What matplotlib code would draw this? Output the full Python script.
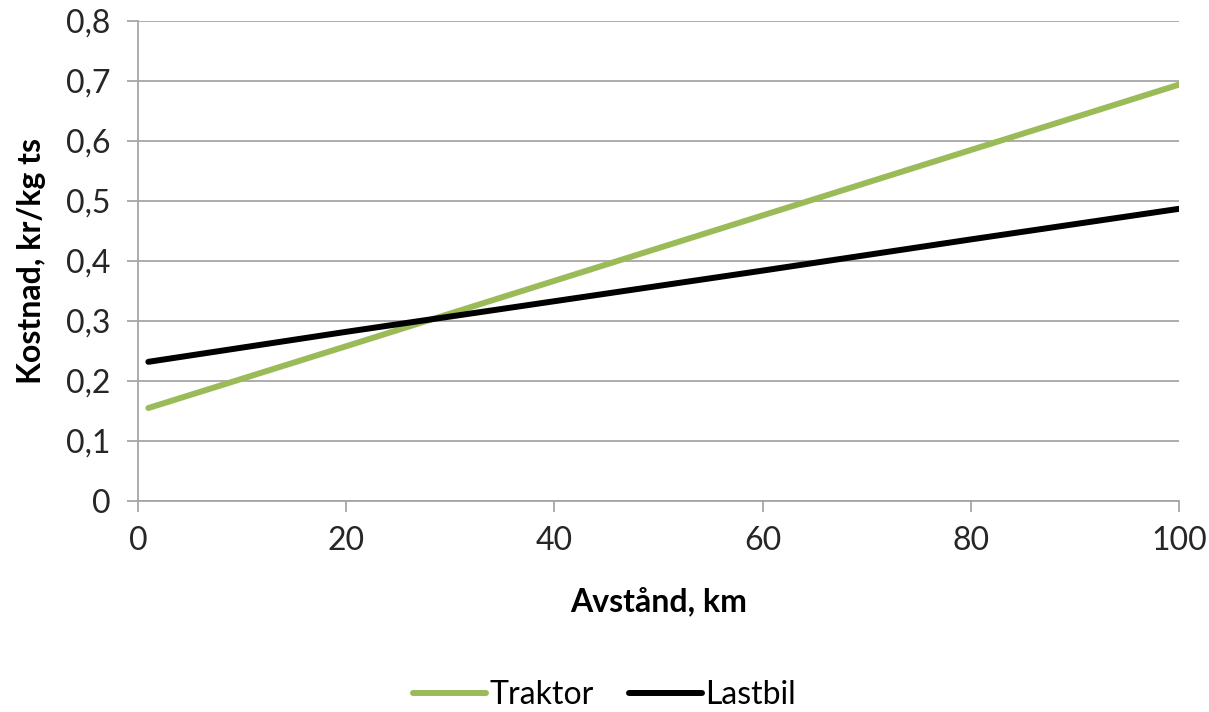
import matplotlib
matplotlib.use("Agg")
import matplotlib.pyplot as plt
from matplotlib.ticker import FuncFormatter

distance = [1, 20, 40, 60, 80, 100]
traktor = [0.155, 0.258, 0.367, 0.476, 0.585, 0.694]
lastbil = [0.232, 0.282, 0.333, 0.384, 0.436, 0.487]
x_ticks = [0, 20, 40, 60, 80, 100]
y_ticks = [0, 0.1, 0.2, 0.3, 0.4, 0.5, 0.6, 0.7, 0.8]

plt.rcParams['font.family'] = ['Lato', 'DejaVu Sans']
fig = plt.figure(figsize=(12.09, 7.12), dpi=100)
ax = fig.add_axes([0.1141, 0.2963, 0.9752 - 0.1141, 0.9705 - 0.2963])

grid_c = '#a6a6a6'
fs = 23
ax.plot(distance, traktor, color='#9bbb59', lw=4.3, label='Traktor', solid_capstyle='round', zorder=3)
ax.plot(distance, lastbil, color='#000000', lw=4.3, label='Lastbil', solid_capstyle='round', zorder=3)

ax.set_xlim(0, 100)
ax.set_ylim(0, 0.8)
ax.set_xticks(x_ticks)
ax.set_yticks(y_ticks)
ax.yaxis.set_major_formatter(FuncFormatter(lambda v, p: ('%g' % round(v, 2)).replace('.', ',')))
ax.grid(axis='y', color=grid_c, lw=1.3)
ax.set_axisbelow(True)
for s in ['top', 'right']:
    ax.spines[s].set_visible(False)
for s in ['left', 'bottom']:
    ax.spines[s].set_color(grid_c)
    ax.spines[s].set_linewidth(1.3)
ax.tick_params(axis='both', colors=grid_c, length=8, width=1.3, labelsize=fs, labelcolor='#262626')
ax.tick_params(axis='y', pad=12)
ax.tick_params(axis='x', pad=10)

ax.set_xlabel('Avstånd, km', fontsize=fs, fontweight='bold', labelpad=22)
ax.set_ylabel('Kostnad, kr/kg ts', fontsize=fs, fontweight='bold', labelpad=14)

fig.legend(loc='center', bbox_to_anchor=(0.5, 0.024), ncol=2, frameon=False,
           fontsize=fs, handlelength=2.3, handletextpad=0.1, columnspacing=1.1)

fig.savefig('out.png', dpi=100)
